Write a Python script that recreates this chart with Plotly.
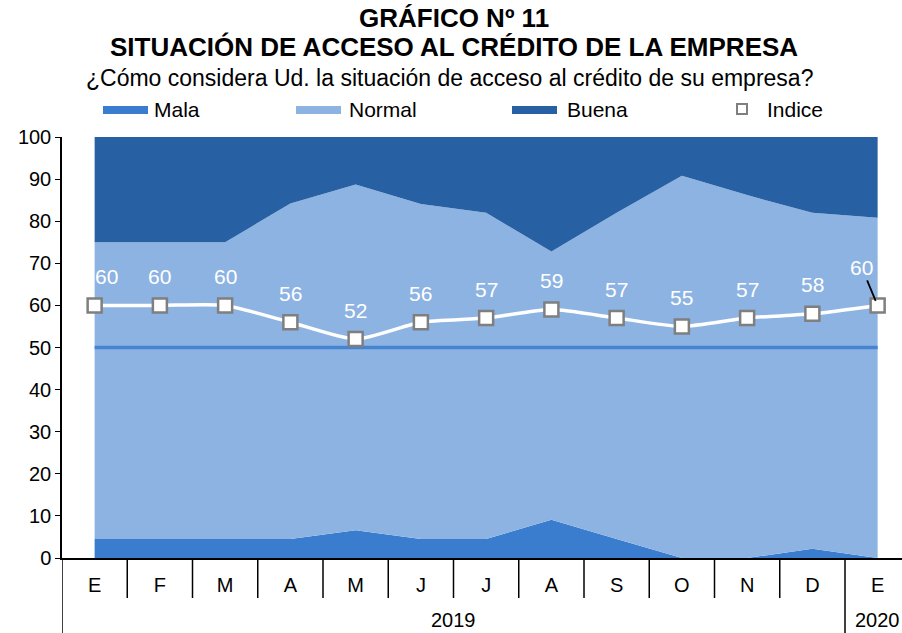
import plotly.graph_objects as go

# datos (porcentajes)
meses = ['E', 'F', 'M', 'A', 'M', 'J', 'J', 'A', 'S', 'O', 'N', 'D', 'E']
anios = ['2019', '2020']
mala = [4.5, 4.5, 4.5, 4.5, 6.6, 4.5, 4.5, 9.1, 4.5, 0, 0, 2.2, 0]
normal = [70.5, 70.5, 70.5, 79.7, 82.1, 79.6, 77.5, 63.7, 77.5, 90.8, 86.2, 79.8, 80.8]
buena = [25.0, 25.0, 25.0, 15.8, 11.3, 15.9, 18.0, 27.2, 18.0, 9.2, 13.8, 18.0, 19.2]
indice = [60, 60, 60, 56, 52, 56, 57, 59, 57, 55, 57, 58, 60]
neutral = [50] * len(meses)

C_MALA = '#3A7DCE'
C_NORMAL = '#8DB3E2'
C_BUENA = '#2860A4'
C_LINEA50 = '#4683D3'
FONT = 'Arial, Liberation Sans, sans-serif'

W, H = 902, 633
L, R, T, B = 62, 0, 137, 75
PW, PH = W - L - R, H - T - B
PASO = 65.25  # px por mes


def px_x(p):
    return (p - L) / PW


def px_y(p):
    return (H - B - p) / PH


def texto(xp, yp, t, size, xanchor='center'):
    return dict(xref='paper', yref='paper', x=px_x(xp), y=px_y(yp), text=t,
                xanchor=xanchor, yanchor='middle', showarrow=False,
                font=dict(family=FONT, size=size, color='black'))


x = list(range(len(meses)))

fig = go.Figure()

# areas apiladas
for nombre, vals, color in [('Mala', mala, C_MALA), ('Normal', normal, C_NORMAL), ('Buena', buena, C_BUENA)]:
    fig.add_trace(go.Scatter(x=x, y=vals, name=nombre, mode='none', stackgroup='uno',
                             fillcolor=color, showlegend=False))

# linea de 50 (neutral)
fig.add_trace(go.Scatter(x=x, y=neutral, mode='lines', line=dict(color=C_LINEA50, width=3.5),
                         showlegend=False))

# indice
fig.add_trace(go.Scatter(x=x, y=indice, name='Indice', mode='lines+markers',
                         line=dict(color='white', width=3.5, shape='spline', smoothing=0.6),
                         marker=dict(symbol='square', size=14, color='white',
                                     line=dict(color='#7F7F7F', width=2.5)),
                         showlegend=False))

anns = []
for i, v in enumerate(indice):
    if i == len(indice) - 1:
        anns.append(dict(x=i, y=v, text=str(v), showarrow=True, arrowhead=0, arrowwidth=1.8,
                         arrowcolor='black', ax=-16, ay=-38, standoff=5,
                         font=dict(family=FONT, size=21, color='white')))
    else:
        anns.append(dict(x=i, y=v, text=str(v), showarrow=False, yshift=29,
                         xanchor='center', yanchor='middle',
                         xshift=12 if i == 0 else 0,
                         font=dict(family=FONT, size=21, color='white')))

# titulos
anns.append(texto(454, 18, '<b>GRÁFICO Nº 11</b>', 26))
anns.append(texto(454, 47, '<b>SITUACIÓN DE ACCESO AL CRÉDITO DE LA EMPRESA</b>', 26))
anns.append(texto(449, 78, '¿Cómo considera Ud. la situación de acceso al crédito de su empresa?', 23))

# leyenda manual
shapes = []
leyenda = [('Mala', C_MALA, 103, 152), ('Normal', C_NORMAL, 296, 347), ('Buena', C_BUENA, 512, 565)]
for nombre, color, x0, xt in leyenda:
    shapes.append(dict(type='rect', xref='paper', yref='paper', x0=px_x(x0), x1=px_x(x0 + 45),
                       y0=px_y(114), y1=px_y(106), fillcolor=color, line=dict(width=0)))
    anns.append(texto(xt, 109, nombre, 21, 'left'))
shapes.append(dict(type='rect', xref='paper', yref='paper', x0=px_x(737), x1=px_x(747),
                   y0=px_y(114), y1=px_y(104), fillcolor='white', line=dict(color='#7F7F7F', width=2)))
anns.append(texto(765, 109, 'Indice', 21, 'left'))

# divisiones del eje de categorias
for i in range(len(meses)):
    largo = i == 0 or i == len(meses) - 1
    shapes.append(dict(type='line', xref='x', yref='paper', x0=i - 0.5, x1=i - 0.5,
                       y0=0, y1=px_y(H) if largo else px_y(598),
                       line=dict(color='black', width=1.5)))

# anios
anns.append(dict(x=5.5, y=px_y(620), yref='paper', text=anios[0], showarrow=False,
                 xanchor='center', yanchor='middle', font=dict(family=FONT, size=20, color='black')))
anns.append(dict(x=12, y=px_y(620), yref='paper', text=anios[1], showarrow=False,
                 xanchor='center', yanchor='middle', font=dict(family=FONT, size=20, color='black')))

fig.update_layout(
    width=W, height=H,
    margin=dict(l=L, r=R, t=T, b=B),
    paper_bgcolor='white', plot_bgcolor='white',
    showlegend=False,
    annotations=anns,
    shapes=shapes,
    font=dict(family=FONT, size=20, color='black'),
)
x_fin = (W - L) / PASO - 0.5
fig.update_xaxes(range=[-0.5, x_fin],
                 tickvals=x, ticktext=meses, ticks='', showgrid=False, zeroline=False,
                 showline=True, linecolor='black', linewidth=2, ticklabelstandoff=8,
                 tickfont=dict(family=FONT, size=20, color='black'))
fig.update_yaxes(range=[0, 100], dtick=10, ticks='outside', ticklen=5, tickcolor='black',
                 showgrid=False, zeroline=False, showline=True, linecolor='black', linewidth=1.5,
                 tickfont=dict(family=FONT, size=20, color='black'))

fig.write_html("out.html", config={'displayModeBar': False},
               post_script="document.body.style.margin='0px';")
